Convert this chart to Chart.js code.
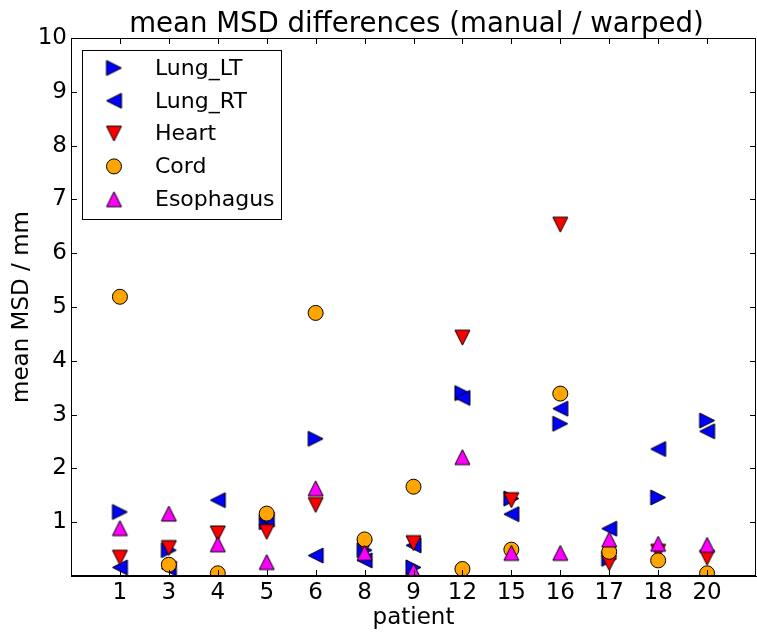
<!DOCTYPE html>
<html>
<head>
<meta charset="utf-8">
<script src="https://cdn.jsdelivr.net/npm/chart.js@4/dist/chart.umd.min.js"></script>
<style>
  html, body { margin: 0; padding: 0; background: #fff; }
  #wrap { width: 757px; height: 635px; }
</style>
</head>
<body>
<div id="wrap"><canvas id="chart" width="757" height="635"></canvas></div>
<script>
// patients on the x axis
const patients = ['1', '3', '4', '5', '6', '8', '9', '12', '15', '16', '17', '18', '20'];

// mean MSD per structure, mm (below 0 falls outside the axes)
const lungLT    = [1.19, 0.48, -0.2, 1.00, 2.55, 0.48, 0.16, 3.40, 1.44, 2.83, 0.32, 1.46, 2.89];
const lungRT    = [0.16, 0.14, 1.41, 1.05, 0.38, 0.29, 0.57, 3.31, 1.15, 3.11, 0.88, 2.36, 2.69];
const heart     = [0.34, 0.52, 0.79, 0.82, 1.32, 0.54, 0.61, 4.43, 1.41, 6.53, 0.24, 0.45, 0.34];
const cord      = [5.19, 0.21, 0.05, 1.16, 4.89, 0.68, 1.66, 0.13, 0.49, 3.39, 0.45, 0.29, 0.05];
const esophagus = [0.89, 1.16, 0.59, 0.26, 1.63, 0.43, 0.09, 2.21, 0.43, 0.43, 0.68, 0.60, 0.58];

const seriesNames = ['Lung_LT', 'Lung_RT', 'Heart', 'Cord', 'Esophagus'];
const seriesValues = [lungLT, lungRT, heart, cord, esophagus];
const seriesColors = ['#0000ff', '#0000ff', '#ff0000', '#ffa500', '#ff00ff'];
// triangle direction in degrees (0 = up), null = circle
const seriesTurn = [90, -90, 180, null, 0];

const FONT = 'DejaVu Sans';
const MS = 15; // marker size, px

// matplotlib-like triangle: as wide as it is tall
function triangleMarker(color, deg) {
    const size = MS + 4;
    const c = document.createElement('canvas');
    c.width = size; c.height = size;
    const g = c.getContext('2d');
    g.translate(size / 2, size / 2);
    g.rotate(deg * Math.PI / 180);
    g.beginPath();
    g.moveTo(0, -MS / 2);
    g.lineTo(MS / 2, MS / 2);
    g.lineTo(-MS / 2, MS / 2);
    g.closePath();
    g.fillStyle = color;
    g.fill();
    g.lineWidth = 1;
    g.strokeStyle = '#000';
    g.stroke();
    return c;
}

const datasets = seriesNames.map((name, s) => {
    const isCircle = seriesTurn[s] === null;
    return {
        label: name,
        data: seriesValues[s].map((v, i) => ({ x: i + 1, y: v })),
        backgroundColor: seriesColors[s],
        borderColor: '#000',
        borderWidth: 1,
        pointStyle: isCircle ? 'circle' : triangleMarker(seriesColors[s], seriesTurn[s]),
        pointRadius: isCircle ? MS / 2 : MS / 2 + 2,
        pointHoverRadius: isCircle ? MS / 2 : MS / 2 + 2,
        clip: 0,
        order: seriesNames.length - s
    };
});

// frame, inward ticks, title and the legend box, matplotlib style
const mplFrame = {
    id: 'mplFrame',
    afterDatasetsDraw(chart) {
        const ctx = chart.ctx;
        const a = chart.chartArea;
        const xs = chart.scales.x, ys = chart.scales.y;
        ctx.save();
        ctx.strokeStyle = '#000';
        ctx.lineWidth = 1;
        ctx.strokeRect(a.left + 0.5, a.top + 0.5, a.right - a.left - 1, a.bottom - a.top - 1);

        ctx.beginPath();
        for (let i = 1; i <= patients.length; i++) {
            const px = Math.round(xs.getPixelForValue(i)) + 0.5;
            ctx.moveTo(px, a.bottom); ctx.lineTo(px, a.bottom - 6);
            ctx.moveTo(px, a.top); ctx.lineTo(px, a.top + 6);
        }
        for (let v = 1; v <= 10; v++) {
            const py = Math.round(ys.getPixelForValue(v)) + 0.5;
            ctx.moveTo(a.left, py); ctx.lineTo(a.left + 6, py);
            ctx.moveTo(a.right, py); ctx.lineTo(a.right - 6, py);
        }
        ctx.stroke();

        // title
        ctx.fillStyle = '#000';
        ctx.font = '27.6px "' + FONT + '"';
        ctx.textAlign = 'center';
        ctx.textBaseline = 'alphabetic';
        ctx.fillText('mean MSD differences (manual / warped)', (a.left + a.right) / 2 + 3, 31.5);

        // legend
        const lx = 82, ly = 50, lw = 199, lh = 169;
        ctx.fillStyle = '#fff';
        ctx.fillRect(lx, ly, lw, lh);
        ctx.strokeRect(lx + 0.5, ly + 0.5, lw, lh);
        ctx.font = '22px "' + FONT + '"';
        ctx.textAlign = 'left';
        ctx.textBaseline = 'middle';
        chart.data.datasets.forEach((ds, s) => {
            const cy = ly + 18 + s * 32.8;
            const cx = lx + 32;
            if (typeof ds.pointStyle === 'string') {
                ctx.beginPath();
                ctx.arc(cx, cy, MS / 2, 0, Math.PI * 2);
                ctx.fillStyle = ds.backgroundColor;
                ctx.fill();
                ctx.stroke();
            } else {
                const img = ds.pointStyle;
                ctx.drawImage(img, cx - img.width / 2, cy - img.height / 2);
            }
            ctx.fillStyle = '#000';
            ctx.fillText(ds.label, lx + 73, cy + 1);
        });
        ctx.restore();
    }
};

new Chart(document.getElementById('chart'), {
    type: 'scatter',
    data: { datasets: datasets },
    plugins: [mplFrame],
    options: {
        responsive: false,
        animation: false,
        layout: { autoPadding: false, padding: { top: 38, right: 1, left: 0, bottom: 0 } },
        plugins: {
            legend: { display: false },
            title: { display: false },
            tooltip: { enabled: false }
        },
        scales: {
            x: {
                type: 'linear',
                min: 0,
                max: patients.length + 1,
                afterFit(scale) {
                    scale.height = 59;
                    scale.paddingLeft = 0;
                    scale.paddingRight = 0;
                },
                afterBuildTicks(scale) {
                    scale.ticks = patients.map((p, i) => ({ value: i + 1 }));
                },
                ticks: {
                    autoSkip: false,
                    maxRotation: 0,
                    padding: 3,
                    color: '#000',
                    font: { family: FONT, size: 23 },
                    callback: (v) => patients[v - 1] || ''
                },
                grid: { display: false, drawTicks: false, tickLength: 0 },
                border: { display: true, color: '#000' },
                title: {
                    display: true,
                    text: 'patient',
                    color: '#000',
                    font: { family: FONT, size: 23 },
                    padding: { top: 0, bottom: 3 }
                }
            },
            y: {
                min: 0,
                max: 10,
                afterFit(scale) {
                    scale.width = 71;
                    scale.paddingTop = 0;
                    scale.paddingBottom = 0;
                },
                afterBuildTicks(scale) {
                    const t = [];
                    for (let v = 1; v <= 10; v++) t.push({ value: v });
                    scale.ticks = t;
                },
                ticks: {
                    padding: 4,
                    color: '#000',
                    font: { family: FONT, size: 23 }
                },
                grid: { display: false, drawTicks: false, tickLength: 0 },
                border: { display: true, color: '#000' },
                title: {
                    display: true,
                    text: 'mean MSD / mm',
                    color: '#000',
                    font: { family: FONT, size: 23 },
                    padding: { top: 8, bottom: 0 }
                }
            }
        }
    }
});
</script>
</body>
</html>
